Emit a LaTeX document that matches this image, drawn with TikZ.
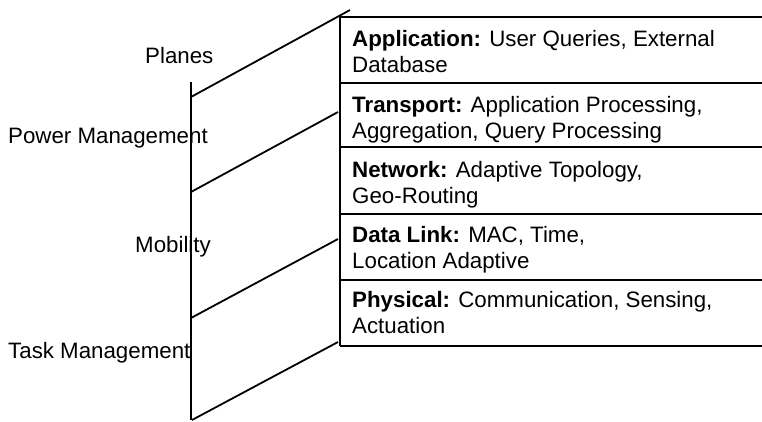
\documentclass[tikz,border=0pt]{standalone}
\usepackage{fontspec}
\setmainfont{Liberation Sans}
\begin{document}
\begin{tikzpicture}[x=1pt,y=-1pt,
  ln/.style={line width=1.8pt,black},
  side/.style={anchor=base west,inner sep=0pt,font=\fontsize{22.3}{26}\selectfont},
  layer/.style={anchor=base west,inner sep=0pt,align=left,font=\fontsize{22.3}{26}\selectfont}]
\useasboundingbox (0,0) rectangle (762,421);
% coordinates
\coordinate (vt) at (191,82);
\coordinate (vb) at (191,420);
\coordinate (a1) at (191,97);  \coordinate (b1) at (350,10);
\coordinate (a2) at (191,192); \coordinate (b2) at (338,112);
\coordinate (a3) at (191,318); \coordinate (b3) at (338,239);
\coordinate (a4) at (192,420); \coordinate (b4) at (338,342);
\coordinate (bl) at (340,17);  \coordinate (br) at (762,17);
\coordinate (bb) at (340,346);
% planes axis
\draw[ln] (vt) -- (vb);
\draw[ln] (a1) -- (b1);
\draw[ln] (a2) -- (b2);
\draw[ln] (a3) -- (b3);
\draw[ln] (a4) -- (b4);
% layer stack
\draw[ln] (bl) -- (bb);
\foreach \y in {17,83,147,214,280,346}
  \draw[ln] (340,\y) -- (762,\y);
% side labels
\node[side] (planes) at (145,63) {Planes};
\node[side] (power) at (8,143) {Power Management};
\node[side] (mob) at (135,252) {Mobility};
\node[side] (task) at (8,358) {Task Management};
% layers (anchor = baseline of second line)
\node[layer] (app) at (352,72) {\textbf{Application:} User Queries, External\\Database};
\node[layer] (tra) at (352,138) {\textbf{Transport:} Application Processing,\\Aggregation, Query Processing};
\node[layer] (net) at (352,203) {\textbf{Network:} Adaptive Topology,\\Geo-Routing};
\node[layer] (dl) at (352,268) {\textbf{Data Link:} MAC, Time,\\Location Adaptive};
\node[layer] (phy) at (352,333) {\textbf{Physical:} Communication, Sensing,\\Actuation};
\end{tikzpicture}
\end{document}
